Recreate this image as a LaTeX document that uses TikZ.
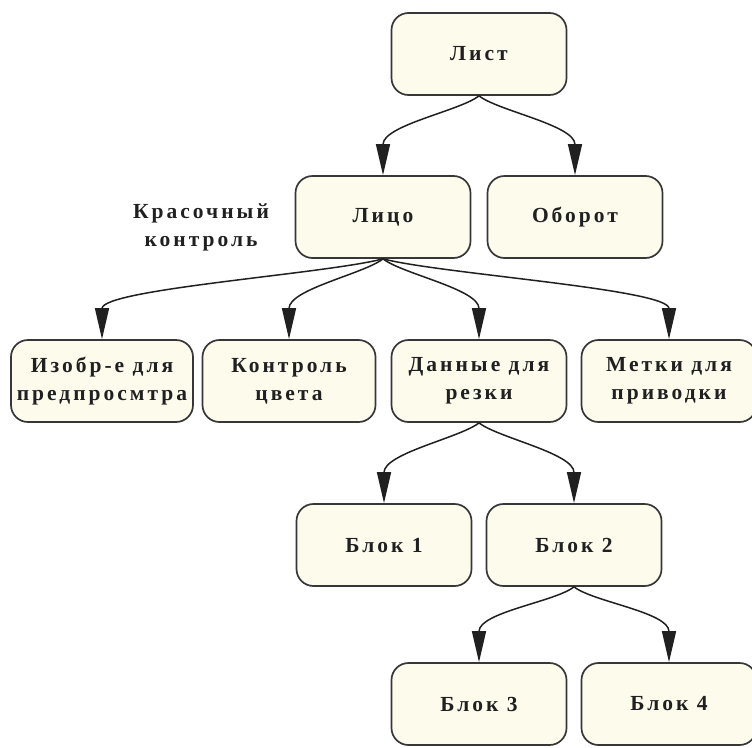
\documentclass[tikz,border=0pt]{standalone}
\usepackage{fontspec}
\setmainfont{Liberation Serif}
\newfontfamily\boxfont[LetterSpace=14]{Liberation Serif}
\usetikzlibrary{arrows.meta}

\definecolor{boxfill}{RGB}{253,251,236}
\definecolor{boxline}{RGB}{55,55,55}
\definecolor{inkcol}{RGB}{32,32,32}

\begin{document}
\begin{tikzpicture}[x=1pt,y=-1pt,
  box/.style={draw=boxline, fill=boxfill, line width=1.7pt,
    rounded corners=17pt, minimum width=175pt, minimum height=82pt,
    inner sep=0pt, align=center, text=inkcol,
    font=\boxfont\bfseries\fontsize{21.5}{28}\selectfont},
  edge/.style={draw=inkcol, line width=1.5pt,
    -{Triangle[width=14pt,length=31pt]}},
  note/.style={align=center, text=inkcol, inner sep=0pt,
    font=\boxfont\bfseries\fontsize{21.5}{28}\selectfont}]
\useasboundingbox (0,0) rectangle (752,747);
\clip (0,0) rectangle (752,747);

% tree nodes
\node[box] (sheet) at (479,54) {Лист};
\node[box] (face)  at (383,217) {Лицо};
\node[box] (back)  at (575,217) {Оборот};
\node[box, minimum width=182pt] (preview) at (102,381) {Изобр-е для\\предпросмтра};
\node[box, minimum width=173pt] (color) at (289,381) {Контроль\\цвета};
\node[box] (cut)   at (479,381) {Данные для\\резки};
\node[box] (marks) at (669,381) {Метки для\\приводки};
\node[box] (b1)    at (384,545) {Блок 1};
\node[box] (b2)    at (574,545) {Блок 2};
\node[box] (b3)    at (479,704) {Блок 3};
\node[box] (b4)    at (669,704) {Блок 4};

% side label
\node[note] (paint) at (201,227) {Красочный\\контроль};

% connectors
\draw[edge] (sheet.south) .. controls +(-19,15) and +(0,-50) .. (face.north);
\draw[edge] (sheet.south) .. controls +(19,15) and +(0,-50) .. (back.north);

\draw[edge] (face.south) .. controls +(-57,15) and +(0,-50) .. (preview.north);
\draw[edge] (face.south) .. controls +(-19,15) and +(0,-50) .. (color.north);
\draw[edge] (face.south) .. controls +(19,15) and +(0,-50) .. (cut.north);
\draw[edge] (face.south) .. controls +(57,15) and +(0,-50) .. (marks.north);

\draw[edge] (cut.south) .. controls +(-19,15) and +(0,-50) .. (b1.north);
\draw[edge] (cut.south) .. controls +(19,15) and +(0,-50) .. (b2.north);

\draw[edge] (b2.south) .. controls +(-19,15) and +(0,-50) .. (b3.north);
\draw[edge] (b2.south) .. controls +(19,15) and +(0,-50) .. (b4.north);
\end{tikzpicture}
\end{document}
